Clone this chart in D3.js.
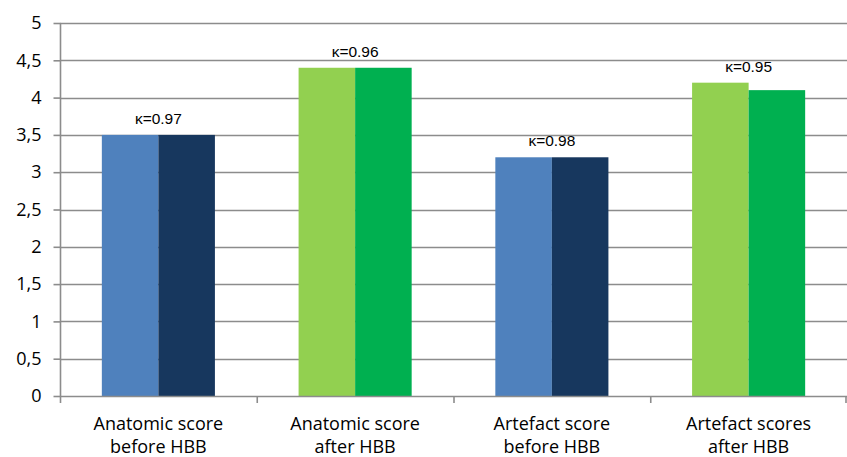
<!DOCTYPE html>
<html>
<head>
<meta charset="utf-8">
<script src="https://cdn.jsdelivr.net/npm/d3@7"></script>
<style>
  html, body { margin: 0; padding: 0; background: #fff; }
  svg { display: block; }
</style>
</head>
<body>
<svg id="chart" width="847" height="457"></svg>
<script>
// Categories (two-line labels) and the two readers' scores per category
const categories = [
  ["Anatomic score", "before HBB"],
  ["Anatomic score", "after HBB"],
  ["Artefact score", "before HBB"],
  ["Artefact scores", "after HBB"]
];
const reader1 = [3.5, 4.4, 3.2, 4.2];
const reader2 = [3.5, 4.4, 3.2, 4.1];
const kappas = ["κ=0.97", "κ=0.96", "κ=0.98", "κ=0.95"];
const yTicks = [0, 0.5, 1, 1.5, 2, 2.5, 3, 3.5, 4, 4.5, 5];

const colors1 = ["#4f81bd", "#92d050", "#4f81bd", "#92d050"];
const colors2 = ["#17375e", "#00b050", "#17375e", "#00b050"];

const svg = d3.select("#chart");
const margin = { left: 60, right: 0, top: 23, bottom: 61 };
const W = 847, H = 457;
const grey = "#8c8c8c";

const x = d3.scaleBand()
  .domain(d3.range(categories.length))
  .range([margin.left, W - margin.right])
  .paddingInner(0).paddingOuter(0);

const inner = d3.scaleBand()
  .domain([0, 1])
  .range([0, x.bandwidth()])
  .paddingInner(0)
  .paddingOuter(0.74);

const y = d3.scaleLinear().domain([0, 5]).range([H - margin.bottom, margin.top]);

// horizontal gridlines
svg.append("g")
  .selectAll("line")
  .data(yTicks.filter(d => d > 0))
  .join("line")
  .attr("x1", margin.left)
  .attr("x2", W - margin.right)
  .attr("y1", d => Math.round(y(d)) + 0.5)
  .attr("y2", d => Math.round(y(d)) + 0.5)
  .attr("stroke", grey)
  .attr("stroke-width", 1.6);

// bars
const groups = svg.append("g")
  .selectAll("g")
  .data(d3.range(categories.length))
  .join("g")
  .attr("transform", i => `translate(${x(i)},0)`);

groups.append("rect")
  .attr("x", inner(0))
  .attr("width", inner.bandwidth())
  .attr("y", i => y(reader1[i]))
  .attr("height", i => y(0) - y(reader1[i]))
  .attr("fill", i => colors1[i]);

groups.append("rect")
  .attr("x", inner(1))
  .attr("width", inner.bandwidth())
  .attr("y", i => y(reader2[i]))
  .attr("height", i => y(0) - y(reader2[i]))
  .attr("fill", i => colors2[i]);

// kappa labels above each pair
groups.append("text")
  .attr("x", x.bandwidth() / 2)
  .attr("y", i => y(Math.max(reader1[i], reader2[i])) - 11)
  .attr("text-anchor", "middle")
  .attr("font-family", "Liberation Sans, Arial, sans-serif")
  .attr("font-size", 15.5)
  .attr("fill", "#000")
  .text(i => kappas[i]);

// y axis
const yAxis = d3.axisLeft(y)
  .tickValues(yTicks)
  .tickSize(7)
  .tickPadding(12)
  .tickFormat(d => String(d).replace(".", ","));

const gy = svg.append("g")
  .attr("transform", `translate(${margin.left + 0.5},0)`)
  .call(yAxis);
gy.select(".domain").attr("stroke", grey).attr("stroke-width", 1.6)
  .attr("d", `M0,${y(5)}V${y(0) + 0.5}`);
gy.selectAll(".tick line").attr("stroke", grey).attr("stroke-width", 1.6);
gy.selectAll(".tick text")
  .attr("font-family", "Open Sans, sans-serif")
  .attr("font-size", 18)
  .attr("fill", "#000");

// x axis baseline with ticks at category boundaries
const gx = svg.append("g");
gx.append("line")
  .attr("x1", margin.left).attr("x2", W - margin.right)
  .attr("y1", Math.round(y(0)) + 0.5).attr("y2", Math.round(y(0)) + 0.5)
  .attr("stroke", grey).attr("stroke-width", 1.6);
gx.selectAll("line.tk")
  .data(d3.range(categories.length + 1))
  .join("line")
  .attr("class", "tk")
  .attr("x1", i => i < categories.length ? x(i) + 0.5 : W - margin.right - 1)
  .attr("x2", i => i < categories.length ? x(i) + 0.5 : W - margin.right - 1)
  .attr("y1", y(0))
  .attr("y2", y(0) + 7)
  .attr("stroke", grey).attr("stroke-width", 1.6);

// category labels
const labels = gx.selectAll("text")
  .data(d3.range(categories.length))
  .join("text")
  .attr("x", i => x(i) + x.bandwidth() / 2)
  .attr("y", y(0) + 34)
  .attr("text-anchor", "middle")
  .attr("font-family", "Open Sans, sans-serif")
  .attr("font-size", 18)
  .attr("fill", "#000");
labels.append("tspan")
  .attr("x", i => x(i) + x.bandwidth() / 2)
  .text(i => categories[i][0]);
labels.append("tspan")
  .attr("x", i => x(i) + x.bandwidth() / 2)
  .attr("dy", 23)
  .text(i => categories[i][1]);
</script>
</body>
</html>
